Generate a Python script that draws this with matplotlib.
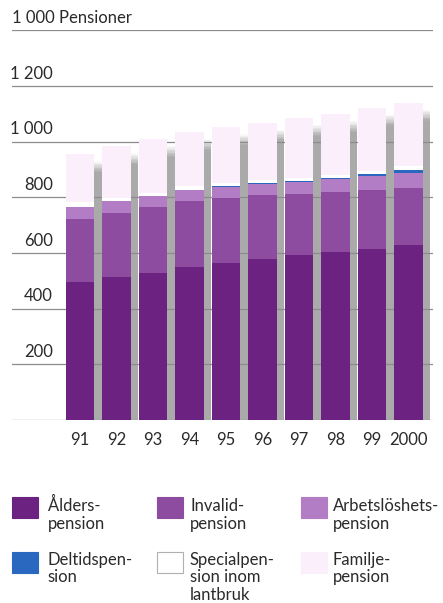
import matplotlib
matplotlib.use("Agg")
import matplotlib.pyplot as plt
import numpy as np
from matplotlib.patches import Rectangle

plt.rcParams['font.family'] = ['Lato', 'DejaVu Sans']

years = ['91', '92', '93', '94', '95', '96', '97', '98', '99', '2000']
alders = [495, 512, 529, 548, 563, 579, 592, 603, 615, 629]
invalid = [228, 231, 235, 237, 234, 228, 221, 215, 210, 204]
arbetsloshets = [44, 42, 39, 40, 41, 41, 43, 48, 52, 54]
deltid = [0, 0, 0, 2, 2, 3, 3, 4, 8, 12]
special = [15, 14, 14, 13, 12, 12, 11, 11, 11, 12]
familje = [173, 184, 193, 195, 200, 205, 215, 219, 226, 229]

yticks = [200, 400, 600, 800, 1000, 1200]
ytick_labels = ['200', '400', '600', '800', '1 000', '1 200']
unit_label = '1 000 Pensioner'

series = [alders, invalid, arbetsloshets, deltid, special, familje]
names = ['Ålders-\npension', 'Invalid-\npension', 'Arbetslöshets-\npension',
         'Deltidspen-\nsion', 'Specialpen-\nsion inom\nlantbruk', 'Familje-\npension']
colors = ['#6b2280', '#8d4c9f', '#b27dc4', '#2a68c0', '#ffffff', '#fbeffb']

W, H = 443, 603
fig = plt.figure(figsize=(W / 100, H / 100), dpi=100)

# axes placement in pixels
ax_l, ax_r, ax_b, ax_t = 12, 433, 420, 30.3
ax = fig.add_axes([ax_l / W, 1 - ax_b / H, (ax_r - ax_l) / W, (ax_b - ax_t) / H])
pitch = 36.5
c0 = 79.85
ax.set_xlim((ax_l - c0) / pitch, (ax_r - c0) / pitch)
ax.set_ylim(0, 1400)
ax.axis('off')

x = np.arange(len(years))
bw = 28.3 / pitch
sw = 7.7 / pitch

totals = np.sum(np.array(series), axis=0)

# shadows (3D effect), fading at the top
shadow_drop = 25
fade = 40
nseg = 8
for i in range(len(years)):
    top = totals[i] - shadow_drop
    ax.bar(x[i] + bw / 2, top - fade, width=sw, align='edge', color='#aaaaaa',
           zorder=1, linewidth=0)
    for k in range(nseg):
        a = 1 - (k + 0.5) / nseg
        ax.bar(x[i] + bw / 2, fade / nseg, bottom=top - fade + k * fade / nseg,
               width=sw, align='edge', color='#aaaaaa', alpha=a, zorder=1,
               linewidth=0)

# grid lines
for v in [0] + yticks + [1400]:
    ax.axhline(v, color='#8c8c8c', linewidth=0.9, zorder=2)

# stacked bars
bottom = np.zeros(len(years))
for vals, col in zip(series, colors):
    ax.bar(x, vals, bottom=bottom, width=bw, color=col, zorder=3, linewidth=0)
    bottom += np.array(vals)

txt_col = '#2a2a2a'
fs = 12
# y tick labels (right aligned just above the lines)
lab_x = (53 - c0) / pitch
for v, lab in zip(yticks, ytick_labels):
    ax.annotate(lab, (lab_x, v), xytext=(0, 3), textcoords='offset points',
                ha='right', va='bottom', fontsize=fs, color=txt_col)
ax.annotate(unit_label, ((ax_l - c0) / pitch, 1400), xytext=(0, 3),
            textcoords='offset points', ha='left', va='bottom', fontsize=fs,
            color=txt_col)

# x labels
for i, yr in enumerate(years):
    ax.annotate(yr, (x[i], 0), xytext=(0, -14.5), textcoords='offset points',
                ha='center', va='center', fontsize=fs, color=txt_col)

# legend
def fx(px):
    return px / W

def fy(py):
    return 1 - py / H

col_patch_x = [12.3, 156.7, 300.7]
col_text_x = [47.5, 190, 333]
row_patch_top = [497.3, 551.7]
row_base = [511, 564.5]
line_sp = 17.5
pw, ph = 26, 21
for idx, (name, col) in enumerate(zip(names, colors)):
    r, c = divmod(idx, 3)
    px0 = col_patch_x[c]
    py0 = row_patch_top[r]
    ec = '#b0b0b0' if col == '#ffffff' else col
    rect = Rectangle((fx(px0), fy(py0 + ph)), pw / W, ph / H, transform=fig.transFigure,
                     facecolor=col, edgecolor=ec, linewidth=0.8)
    fig.patches.append(rect)
    for j, line in enumerate(name.split('\n')):
        fig.text(fx(col_text_x[c]), fy(row_base[r] + j * line_sp), line,
                 ha='left', va='baseline', fontsize=fs, color=txt_col)

fig.savefig('out.png', dpi=100)
